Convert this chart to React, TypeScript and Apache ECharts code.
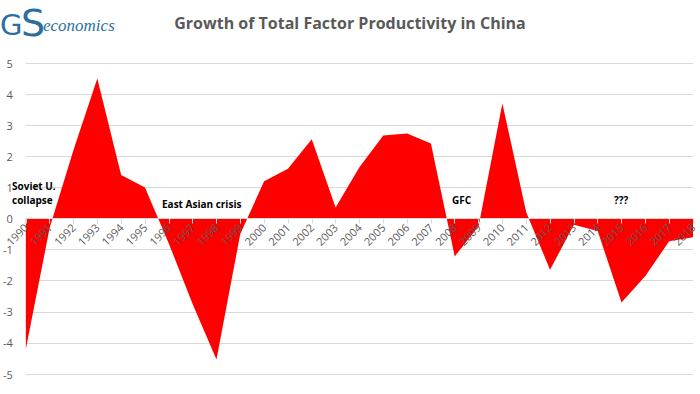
import React, { useEffect, useRef } from "react";
import * as echarts from "echarts";

const years = [
  "1990", "1991", "1992", "1993", "1994", "1995", "1996", "1997", "1998", "1999",
  "2000", "2001", "2002", "2003", "2004", "2005", "2006", "2007", "2008", "2009",
  "2010", "2011", "2012", "2013", "2014", "2015", "2016", "2017", "2018",
];
const tfpGrowth = [
  -4.2, -0.3, 2.2, 4.5, 1.4, 1.0, -0.8, -2.75, -4.53, -0.5,
  1.2, 1.6, 2.55, 0.35, 1.65, 2.67, 2.73, 2.41, -1.22, -0.25,
  3.7, 0.2, -1.65, -0.2, -0.4, -2.7, -1.85, -0.73, -0.6,
];
const yTicks = { min: -5, max: 5, interval: 1 };
const titleText = "Growth of Total Factor Productivity in China";
const annotations = [
  { text: "Soviet U.\ncollapse", x: 12, y: 179 },
  { text: "East Asian crisis", x: 162, y: 197 },
  { text: "GFC", x: 452, y: 193 },
  { text: "???", x: 614, y: 193 },
];

const GRID = { left: 21, right: 7, top: 63, bottom: 20 };
const HEIGHT = 394;

export default function App() {
  const ref = useRef<HTMLDivElement>(null);
  useEffect(() => {
    if (!ref.current) return;
    const chart = echarts.init(ref.current, null, { renderer: "svg" });
    const logoColor = "#2c6f9f";
    const plotH = HEIGHT - GRID.top - GRID.bottom;
    const zeroFromBottom = (plotH * (0 - yTicks.min)) / (yTicks.max - yTicks.min);
    chart.setOption({
      animation: false,
      backgroundColor: "#ffffff",
      title: {
        text: titleText,
        left: "center",
        top: 10,
        textStyle: {
          fontFamily: "Open Sans",
          fontSize: 16,
          fontWeight: "bold",
          color: "#595959",
        },
      },
      grid: { ...GRID, containLabel: false },
      xAxis: {
        type: "category",
        data: years,
        boundaryGap: false,
        z: 5,
        offset: -zeroFromBottom,
        axisLine: { onZero: false, lineStyle: { color: "#d9d9d9", width: 1 } },
        axisTick: { show: true, length: 5, lineStyle: { color: "#d9d9d9" } },
        axisLabel: {
          rotate: 45,
          interval: 0,
          margin: 7,
          fontFamily: "Open Sans",
          fontSize: 11,
          color: "#595959",
        },
        splitLine: { show: false },
      },
      yAxis: {
        type: "value",
        min: yTicks.min,
        max: yTicks.max,
        interval: yTicks.interval,
        axisLine: { show: false },
        axisTick: { show: false },
        axisLabel: {
          margin: 13,
          fontFamily: "Open Sans",
          fontSize: 11,
          color: "#595959",
        },
        splitLine: { lineStyle: { color: "#d9d9d9", width: 1 } },
      },
      series: [
        {
          type: "line",
          data: tfpGrowth,
          showSymbol: false,
          lineStyle: { width: 0, color: "#ff0000" },
          itemStyle: { color: "#ff0000" },
          areaStyle: { color: "#ff0000", opacity: 1, origin: 0 },
          z: 2,
        },
      ],
      graphic: [
        ...annotations.map((a) => ({
          type: "text",
          x: a.x,
          y: a.y,
          z: 10,
          style: {
            text: a.text,
            fontFamily: "Open Sans",
            fontSize: 10,
            fontWeight: "bold",
            fill: "#000000",
            lineHeight: 14,
          },
        })),
        {
          type: "text",
          x: 0,
          y: 10,
          style: {
            text: "G",
            fontFamily: "DejaVu Sans",
            fontSize: 29,
            fill: logoColor,
          },
        },
        {
          type: "text",
          x: 21,
          y: 4,
          style: {
            text: "S",
            fontFamily: "DejaVu Sans",
            fontSize: 38,
            fill: logoColor,
          },
        },
        {
          type: "text",
          x: 43,
          y: 17,
          style: {
            text: "economics",
            fontFamily: "Liberation Serif",
            fontStyle: "italic",
            fontSize: 17,
            fill: logoColor,
          },
        },
      ],
    });
    return () => chart.dispose();
  }, []);
  return <div ref={ref} style={{ width: 700, height: HEIGHT, position: "absolute", left: 0, top: 0 }} />;
}
